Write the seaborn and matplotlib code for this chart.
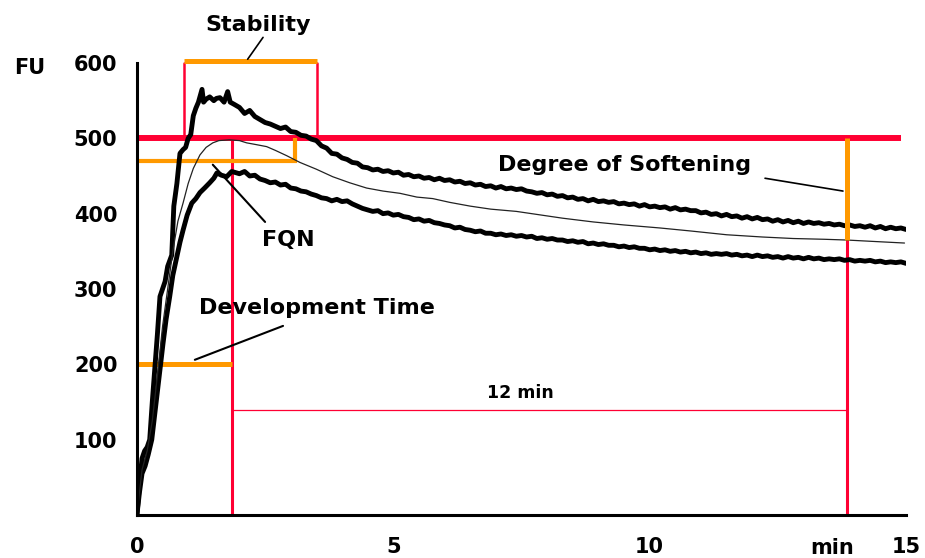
import matplotlib
matplotlib.use("Agg")
import matplotlib.pyplot as plt
import seaborn as sns
import pandas as pd

# ---- data (minutes, FU) ----
# rising part of the two thick curves
upper_rise_t = [0.0, 0.05, 0.1, 0.15, 0.2, 0.25, 0.3, 0.35, 0.4, 0.45, 0.5, 0.55, 0.6, 0.68, 0.72, 0.78,
                0.84, 0.9, 0.95, 1.0, 1.05, 1.1, 1.15, 1.2, 1.27, 1.3, 1.35, 1.42, 1.5, 1.55, 1.62, 1.7,
                1.77, 1.82, 1.9]
upper_rise_fu = [0, 40, 75, 85, 90, 100, 150, 195, 240, 290, 300, 310, 330, 345, 410, 440,
                 480, 485, 488, 500, 505, 530, 540, 548, 565, 548, 552, 555, 550, 553, 554, 548,
                 562, 548, 545]
lower_rise_t = [0.0, 0.05, 0.1, 0.16, 0.22, 0.29, 0.35, 0.41, 0.46, 0.51, 0.57, 0.64, 0.7, 0.78, 0.84,
                0.9, 0.98, 1.07, 1.15, 1.23, 1.32, 1.42, 1.5, 1.56, 1.65, 1.75, 1.85, 1.95]
lower_rise_fu = [0, 30, 55, 65, 80, 100, 135, 170, 200, 228, 260, 290, 318, 343, 362,
                 378, 398, 414, 420, 428, 434, 441, 447, 454, 451, 449, 456, 454]

# sampled tail (2.0 .. 15.0 min)
tail_t = [2.0, 2.1, 2.2, 2.3, 2.4, 2.5, 2.6, 2.7, 2.8, 2.9, 3.0, 3.1, 3.2, 3.3, 3.4, 3.5, 3.6, 3.7,
          3.8, 3.9, 4.0, 4.1, 4.2, 4.3, 4.4, 4.5, 4.6, 4.7, 4.8, 4.9, 5.0, 5.1, 5.2, 5.3, 5.4, 5.5,
          5.6, 5.7, 5.8, 5.9, 6.0, 6.1, 6.2, 6.3, 6.4, 6.5, 6.6, 6.7, 6.8, 6.9, 7.0, 7.1, 7.2, 7.3,
          7.4, 7.5, 7.6, 7.7, 7.8, 7.9, 8.0, 8.1, 8.2, 8.3, 8.4, 8.5, 8.6, 8.7, 8.8, 8.9, 9.0, 9.1,
          9.2, 9.3, 9.4, 9.5, 9.6, 9.7, 9.8, 9.9, 10.0, 10.1, 10.2, 10.3, 10.4, 10.5, 10.6, 10.7,
          10.8, 10.9, 11.0, 11.1, 11.2, 11.3, 11.4, 11.5, 11.6, 11.7, 11.8, 11.9, 12.0, 12.1, 12.2,
          12.3, 12.4, 12.5, 12.6, 12.7, 12.8, 12.9, 13.0, 13.1, 13.2, 13.3, 13.4, 13.5, 13.6, 13.7,
          13.8, 13.9, 14.0, 14.1, 14.2, 14.3, 14.4, 14.5, 14.6, 14.7, 14.8, 14.9, 15.0]
upper_tail_fu = [541, 533, 537, 529, 525, 521, 519, 516, 513, 515, 509, 508, 504, 503, 499, 497, 490, 487,
                 480, 479, 474, 472, 468, 467, 462, 461, 458, 459, 456, 457, 454, 455, 451, 452, 449, 450,
                 447, 448, 445, 447, 444, 445, 442, 443, 440, 441, 438, 439, 436, 437, 434, 436, 433, 434,
                 432, 433, 430, 429, 427, 428, 425, 426, 423, 424, 421, 422, 419, 420, 417, 419, 416, 417,
                 415, 416, 413, 414, 412, 413, 410, 412, 409, 410, 408, 409, 406, 408, 405, 406,
                 404, 404, 401, 402, 399, 400, 397, 399, 396, 397, 394, 396, 393, 395, 392,
                 393, 390, 392, 389, 391, 388, 390, 387, 389, 387, 388, 386, 387, 385, 386,
                 384, 385, 383, 384, 382, 384, 381, 383, 380, 382, 380, 381, 379]
lower_tail_fu = [453, 456, 450, 451, 446, 444, 441, 442, 438, 439, 434, 433, 430, 429, 426, 424, 421, 420,
                 417, 419, 416, 417, 413, 410, 407, 405, 403, 404, 400, 401, 398, 399, 396, 395, 392, 393,
                 390, 391, 388, 387, 385, 384, 381, 382, 379, 378, 376, 377, 374, 374, 372, 373, 371, 372,
                 370, 371, 369, 370, 367, 368, 366, 367, 365, 365, 363, 364, 362, 363, 360, 361, 359, 360,
                 358, 358, 356, 357, 355, 356, 354, 354, 352, 353, 351, 352, 350, 351, 349, 350,
                 348, 349, 347, 348, 346, 347, 346, 347, 345, 346, 344, 345, 343, 345, 343,
                 344, 342, 343, 341, 343, 341, 342, 340, 342, 340, 341, 339, 340, 339, 340,
                 338, 339, 337, 338, 337, 338, 336, 337, 335, 336, 335, 336, 334]

# thin middle (mean) curve
mid_t = [0.0, 0.1, 0.2, 0.3, 0.4, 0.5, 0.6, 0.7, 0.8, 0.9, 1.0, 1.1, 1.23, 1.35, 1.48, 1.6, 1.8,
         2.0, 2.14, 2.3, 2.53, 2.7, 2.92, 3.18, 3.5, 3.82, 4.15, 4.48, 4.8, 5.13, 5.46, 5.77, 6.1,
         6.5, 6.9, 7.4, 7.8, 8.3, 8.9, 9.5, 10.2, 10.8, 11.5, 12.2, 12.8, 13.4, 13.84, 14.4, 14.97]
mid_fu = [0, 60, 85, 125, 185, 250, 300, 350, 390, 414, 440, 460, 478, 488, 494, 497, 498,
          497, 494, 492, 489, 484, 477, 468, 459, 449, 441, 434, 430, 427, 422, 420, 415,
          410, 406, 403, 399, 394, 389, 385, 381, 377, 372, 369, 367, 366, 365, 363, 361]

# marker values
consistency_line = 500
dev_time = 1.85
stab_start, stab_end = 0.92, 3.51
fqn_time, fqn_level = 3.08, 470
softening_time = 13.84
softening_level = 365
dev_level = 200

x_ticks = list(range(0, 16))
x_labels = ["0", "", "", "", "", "5", "", "", "", "", "10", "", "", "", "", "15"]
y_ticks = [0, 100, 200, 300, 400, 500, 600]
y_labels = ["", "100", "200", "300", "400", "500", "600"]

RED = "#FF0033"
ORANGE = "#FF9900"

sns.set_style("white")
plt.rcParams["font.family"] = ["DejaVu Sans"]

fig = plt.figure(figsize=(9.25, 5.58), dpi=100)
ax = fig.add_axes([0.148, 0.0771, 0.8315, 0.810])

df_u = pd.DataFrame({"t": upper_rise_t + tail_t, "fu": upper_rise_fu + upper_tail_fu})
df_l = pd.DataFrame({"t": lower_rise_t + tail_t, "fu": lower_rise_fu + lower_tail_fu})
df_m = pd.DataFrame({"t": mid_t, "fu": mid_fu})

# reference lines (under curves)
ax.plot([0, 14.9], [consistency_line, consistency_line], color=RED, lw=4.3, zorder=2, solid_capstyle="butt")
ax.plot([dev_time, dev_time], [0, consistency_line], color=RED, lw=2.2, zorder=2)
ax.plot([softening_time, softening_time], [0, softening_level], color=RED, lw=2.2, zorder=2)
ax.plot([stab_start, stab_start], [consistency_line, 600], color=RED, lw=1.8, zorder=2, clip_on=False)
ax.plot([stab_end, stab_end], [consistency_line, 600], color=RED, lw=1.8, zorder=2, clip_on=False)
ax.plot([dev_time, softening_time], [140, 140], color=RED, lw=0.9, zorder=2)

ax.plot([stab_start, stab_end], [603, 603], color=ORANGE, lw=3.6, zorder=3, clip_on=False, solid_capstyle="butt")
ax.plot([0, dev_time], [dev_level, dev_level], color=ORANGE, lw=3.6, zorder=3, solid_capstyle="butt")
ax.plot([0, fqn_time, fqn_time], [fqn_level, fqn_level, consistency_line], color=ORANGE, lw=3.0, zorder=3,
        solid_capstyle="butt", solid_joinstyle="miter")

# curves
sns.lineplot(data=df_u, x="t", y="fu", color="black", lw=3.5, sort=False, estimator=None, ax=ax, zorder=4)
sns.lineplot(data=df_l, x="t", y="fu", color="black", lw=3.5, sort=False, estimator=None, ax=ax, zorder=4)
sns.lineplot(data=df_m, x="t", y="fu", color="#222222", lw=0.9, sort=False, estimator=None, ax=ax, zorder=4)

ax.plot([softening_time, softening_time], [consistency_line, softening_level], color=ORANGE, lw=3.6,
        zorder=5, solid_capstyle="butt")

ax.set_xlim(0, 15)
ax.set_ylim(0, 600)
ax.set_xlabel("")
ax.set_ylabel("")
ax.set_xticks(x_ticks)
ax.set_xticklabels(x_labels)
ax.set_yticks(y_ticks)
ax.set_yticklabels(y_labels)
for s in ["top", "right"]:
    ax.spines[s].set_visible(False)
for s in ["left", "bottom"]:
    ax.spines[s].set_color("black")
    ax.spines[s].set_linewidth(2.2)
    ax.spines[s].set_zorder(6)
ax.tick_params(axis="x", direction="inout", length=8, width=1.2, color=RED, pad=12,
               labelsize=15, labelcolor="black")
ax.tick_params(axis="y", direction="out", length=5, width=1.2, color=RED, pad=9,
               labelsize=15, labelcolor="black")
for lab in ax.get_xticklabels() + ax.get_yticklabels():
    lab.set_fontweight("bold")

# text annotations
kw = dict(fontsize=16, fontweight="bold", color="black")
ax.text(-2.09, 593, "FU", ha="center", va="center", clip_on=False, fontsize=15, fontweight="bold", color="black")
ax.text(13.56, -44, "min", ha="center", va="center", clip_on=False, fontsize=15, fontweight="bold", color="black")

ax.text(2.36, 650, "Stability", ha="center", va="center", clip_on=False, **kw)
ax.plot([2.46, 2.16], [634, 605], color="black", lw=1.2, clip_on=False, zorder=5)

ax.text(2.96, 365, "FQN", ha="center", va="center", **kw)
ax.plot([1.48, 2.50], [465, 389], color="black", lw=1.5, zorder=5)

ax.text(7.04, 465, "Degree of Softening", ha="left", va="center", **kw)
ax.plot([12.25, 13.77], [447, 430], color="black", lw=1.2, zorder=5)

ax.text(3.51, 275, "Development Time", ha="center", va="center", **kw)
ax.plot([1.13, 2.85], [206, 251], color="black", lw=1.5, zorder=5)

ax.text(7.47, 162, "12 min", ha="center", va="center", fontsize=12.5, fontweight="bold", color="black")

fig.savefig("out.png", dpi=100)
